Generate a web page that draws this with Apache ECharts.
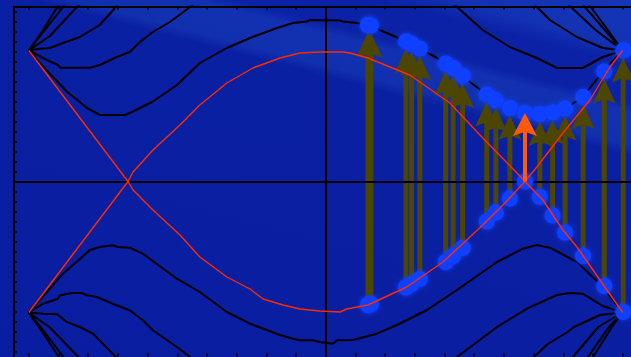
<!DOCTYPE html>
<html>
<head>
<meta charset="utf-8">
<script src="https://cdn.jsdelivr.net/npm/echarts@6/dist/echarts.min.js"></script>
<style>
  html, body { margin: 0; padding: 0; background: #0a1ea2; }
  #chart { width: 631px; height: 357px; }
</style>
</head>
<body>
<div id="chart"></div>
<script>
// Band structure E(k): k in units of the top-axis tick spacing, E in units of the left-axis tick spacing.
const kTicks = [-10, -9, -8, -7, -6, -5, -4, -3, -2, -1, 0, 1, 2, 3, 4, 5, 6, 7, 8, 9, 10];
const eTicks = [-17, -16, -15, -14, -13, -12, -11, -10, -9, -8, -7, -6, -5, -4, -3, -2, -1, 0,
                1, 2, 3, 4, 5, 6, 7, 8, 9, 10, 11, 12, 13, 14, 15, 16, 17];

// Edge-state bands (red), crossing at E = 0
const redBandA = [[-10,-13.1],[-6.66,0],[-6.49,0.95],[-5.82,3.15],[-4.91,5.65],[-4.24,7.65],[-3.33,9.85],
  [-2.45,11.35],[-1.54,12.35],[-0.87,12.85],[-0.2,12.95],[0.58,12.95],[0.82,12.85],[1.42,12.35],[2.83,10.65],
  [4.18,7.85],[5.29,4.35],[6.44,0.85],[6.71,0],[7.31,-1.85],[7.99,-4.85],[8.46,-6.55],[9.33,-10.25],[10,-13.1]];
const redBandB = [[-10,13.1],[-6.66,0],[-6.49,-0.85],[-5.82,-2.85],[-4.91,-5.35],[-4.24,-7.55],[-3.33,-9.55],
  [-2.55,-10.75],[-2.11,-11.75],[-1.44,-12.35],[-0.87,-12.75],[-0.2,-12.95],[0.48,-13.05],[0.71,-12.75],
  [1.42,-12.35],[2.73,-10.55],[3.95,-8.05],[5.29,-4.35],[5.97,-2.35],[6.71,0],[7.11,1.45],[7.99,4.85],
  [8.9,8.15],[9.57,11.45],[10,13.1]];

// Bulk bands above the gap (black)
const upperBand1 = [[-10,13.1],[-9.52,11.5],[-8.72,9.0],[-8.04,7.35],[-7.61,6.65],[-6.76,6.65],[-6.49,7.0],
  [-5.82,8.0],[-5.01,9.65],[-4.24,11.85],[-3.33,13.35],[-2.55,14.35],[-1.64,15.35],[-1.1,15.85],[-0.63,16.0],
  [-0.53,16.15],[0.48,16.1],[0.58,16.0],[1.05,15.85],[1.42,15.65],[2.06,14.85],[2.83,13.85],[3.75,12.35],
  [4.29,11.35],[4.86,9.95],[5.53,8.45],[6.2,7.35],[6.88,6.65],[7.55,6.85],[7.99,7.15],[8.66,8.45],[9.24,10.65],[10,13.1]];
const upperBand2Left = [[-10,13.1],[-9.39,12.15],[-9.02,11.65],[-8.95,11.38],[-7.94,11.38],[-7.61,11.65],
  [-7.04,12.45],[-6.6,12.95],[-6.26,13.95],[-5.82,14.95],[-5.25,15.95],[-4.57,17.45],[-4.41,17.85]];
const upperBand2Right = [[4.29,17.85],[4.42,17.45],[5.29,15.15],[6.2,13.45],[7.11,12.35],[7.79,11.35],
  [8.66,11.35],[9.33,12.45],[10,13.1]];
const upperBand3Left = [[-10,13.1],[-9.7,13.25],[-9.29,13.35],[-8.85,13.85],[-8.28,14.45],[-7.61,15.65],
  [-7.1,17.35],[-7.0,17.85]];
const upperBand3Right = [[7.01,17.85],[7.11,17.45],[7.55,16.15],[8.46,14.45],[9.33,13.35],[10,13.1]];
const upperSteepLeft1 = [[-10,13.1],[-9.56,14.95],[-9.02,17.55],[-8.95,17.85]];
const upperSteepLeft2 = [[-10,13.1],[-9.46,15.15],[-8.82,17.55],[-8.75,17.85]];
const upperSteepLeft3 = [[-10,13.1],[-9.29,14.55],[-8.35,17.55],[-8.24,17.85]];
const upperSteepRight1 = [[10,13.1],[9.09,15.15],[8.22,17.55],[8.15,17.85]];
const upperSteepRight2 = [[10,13.1],[9.4,15.15],[8.7,17.55],[8.63,17.85]];
const upperSteepRight3 = [[10,13.1],[9.5,15.15],[8.9,17.55],[8.83,17.85]];

// Bulk bands below the gap (black)
const lowerBand1 = [[-10,-13.1],[-8.85,-9.22],[-7.94,-6.85],[-7.61,-6.55],[-7.17,-6.38],[-7.0,-6.55],
  [-6.6,-6.62],[-6.16,-7.22],[-5.01,-9.72],[-4.24,-11.05],[-3.33,-13.05],[-2.55,-14.22],[-1.54,-15.35],
  [-1.1,-15.72],[-0.87,-15.88],[-0.43,-15.88],[-0.2,-16.05],[0.24,-16.22],[0.38,-15.88],[0.92,-15.85],
  [1.72,-15.22],[2.4,-14.35],[3.41,-12.85],[4.42,-10.85],[5.77,-8.05],[6.64,-6.72],[7.11,-6.35],
  [7.55,-6.62],[8.46,-8.05],[9.24,-10.25],[10,-13.1]];
const lowerBand2Left = [[-10,-13.1],[-9.52,-12.22],[-9.02,-11.72],[-8.95,-11.38],[-8.55,-11.15],[-8.21,-11.15],
  [-8.04,-11.38],[-7.71,-11.55],[-7.04,-12.38],[-6.6,-12.88],[-6.16,-13.88],[-5.82,-14.88],[-5.01,-16.55],
  [-4.57,-17.55],[-4.41,-17.95]];
const lowerBand2Right = [[4.29,-17.95],[4.42,-17.55],[5.77,-14.55],[6.78,-12.72],[7.79,-11.35],[8.22,-11.15],
  [8.66,-11.22],[9.33,-12.45],[10,-13.1]];
const lowerBand3Left = [[-10,-13.1],[-9.52,-13.22],[-9.05,-13.28],[-8.72,-14.05],[-8.28,-14.55],[-7.84,-15.22],
  [-7.17,-17.22],[-7.04,-17.65],[-6.98,-17.9]];
const lowerBand3Right = [[6.91,-17.85],[7.01,-17.55],[7.48,-16.25],[8.15,-15.05],[8.36,-14.55],[9.24,-13.35],[10,-13.1]];
const lowerSteepLeft1 = [[-10,-13.1],[-9.56,-15.0],[-9.0,-17.5],[-8.93,-17.85]];
const lowerSteepLeft2 = [[-10,-13.1],[-9.46,-15.1],[-8.85,-17.5],[-8.78,-17.85]];
const lowerSteepLeft3 = [[-10,-13.1],[-9.29,-14.6],[-8.35,-17.5],[-8.24,-17.85]];
const lowerSteepRight1 = [[10,-13.1],[9.18,-14.55],[8.33,-17.55],[8.26,-17.85]];
const lowerSteepRight2 = [[10,-13.1],[9.54,-14.55],[8.83,-17.55],[8.76,-17.85]];
const lowerSteepRight3 = [[10,-13.1],[9.64,-14.55],[9.0,-17.55],[8.93,-17.85]];

// Optical transitions: momentum, initial (edge band) energy, final (bulk band) energy
const transitionK    = [1.42, 1.52, 2.70, 2.89, 3.17, 4.04, 4.29, 4.61, 5.42, 5.73, 6.20, 7.21, 7.64, 8.06, 8.67, 9.38, 10.02];
const transitionFrom = [-12.35, -12.25, -10.6, -10.25, -9.75, -8.05, -7.45, -6.65, -4.0, -3.1, -1.7, -1.55, -3.4, -5.1, -7.45, -10.45, -13.05];
const transitionTo   = [15.65, 15.6, 14.02, 13.75, 13.3, 11.8, 11.35, 10.56, 8.7, 8.12, 7.35, 6.75, 6.9, 7.29, 8.45, 11.0, 13.1];

// The transition starting at the band crossing
const crossingK = [6.71];
const crossingFrom = [0];
const crossingTo = [6.85];

const BLACK = '#000000';
const RED = '#ff2a00';
const OLIVE = '#4c4600';
const ORANGE = '#ff5a0a';
const DOT = '#1040ff';

const blackBands = [
  upperBand1, upperBand2Left, upperBand2Right, upperBand3Left, upperBand3Right,
  upperSteepLeft1, upperSteepLeft2, upperSteepLeft3, upperSteepRight1, upperSteepRight2, upperSteepRight3,
  lowerBand1, lowerBand2Left, lowerBand2Right, lowerBand3Left, lowerBand3Right,
  lowerSteepLeft1, lowerSteepLeft2, lowerSteepLeft3, lowerSteepRight1, lowerSteepRight2, lowerSteepRight3
];

function bandSeries(data, color, width, z) {
  return {
    type: 'line', data: data, xAxisIndex: 0, yAxisIndex: 0,
    showSymbol: false, symbol: 'none', silent: true, animation: false,
    clip: true, z: z,
    lineStyle: { color: color, width: width }
  };
}

function arrowRenderer(look) {
  return function (params, api) {
    const k = api.value(0);
    const base = api.coord([k, api.value(1)]);
    const tip = api.coord([k, api.value(2)]);
    const x = base[0];
    const yTip = tip[1] + look.tipGap;
    const yBase = base[1] - look.baseGap;
    const hw = look.headWidth / 2;
    const hh = look.headHeight;
    const notch = hh * 0.82;
    return {
      type: 'group',
      children: [
        {
          type: 'rect',
          shape: { x: x - look.shaft / 2, y: yTip + notch - 1, width: look.shaft, height: Math.max(0, yBase - yTip - notch + 1) },
          style: { fill: look.color }
        },
        {
          type: 'polygon',
          shape: { points: [[x, yTip], [x + hw, yTip + hh], [x, yTip + notch], [x - hw, yTip + hh]] },
          style: { fill: look.color }
        }
      ]
    };
  };
}

const transitions = transitionK.map((k, i) => [k, transitionFrom[i], transitionTo[i]]);
const crossingTransitions = crossingK.map((k, i) => [k, crossingFrom[i], crossingTo[i]]);

const dotPoints = [];
transitions.concat(crossingTransitions).forEach(t => {
  dotPoints.push([t[0], t[1]]);
  dotPoints.push([t[0], t[2]]);
});

const series = [];
blackBands.forEach(b => series.push(bandSeries(b, BLACK, 2, 3)));

// k = 0 and E = 0 reference lines
series[0].markLine = {
  silent: true, symbol: 'none', animation: false,
  label: { show: false },
  lineStyle: { color: BLACK, width: 2, type: 'solid' },
  data: [{ xAxis: 0 }, { yAxis: 0 }]
};

series.push({
  type: 'custom', data: transitions, silent: true, animation: false, z: 4,
  encode: { x: 0, y: [1, 2] },
  renderItem: arrowRenderer({ color: OLIVE, shaft: 5, headWidth: 23, headHeight: 25, tipGap: 7, baseGap: 7 })
});

series.push({
  type: 'scatter', data: dotPoints, symbol: 'circle', symbolSize: 16,
  silent: true, animation: false, z: 5,
  itemStyle: { color: DOT, opacity: 1, shadowBlur: 4, shadowColor: DOT }
});

series.push(bandSeries(redBandA, RED, 1.4, 6));
series.push(bandSeries(redBandB, RED, 1.4, 6));

series.push({
  type: 'custom', data: crossingTransitions, silent: true, animation: false, z: 7,
  encode: { x: 0, y: [1, 2] },
  renderItem: arrowRenderer({ color: ORANGE, shaft: 4, headWidth: 24, headHeight: 23, tipGap: 0, baseGap: 0 })
});

const tickStyle = { color: BLACK, width: 1.5 };

const chart = echarts.init(document.getElementById('chart'), null, { renderer: 'canvas', width: 631, height: 357 });
chart.setOption({
  animation: false,
  backgroundColor: '#0a1ea2',
  graphic: {
    elements: [{
      type: 'rect', z: -100, silent: true,
      shape: { x: 0, y: 0, width: 631, height: 357 },
      style: {
        fill: new echarts.graphic.LinearGradient(600, -14, 471, 482, [
          { offset: 0.0, color: '#1535b8' },
          { offset: 0.10, color: '#1332b3' },
          { offset: 0.135, color: '#0b22a6' },
          { offset: 0.205, color: '#0b22a6' },
          { offset: 0.225, color: '#1231b2' },
          { offset: 0.285, color: '#1130ae' },
          { offset: 0.305, color: '#0a20a3' },
          { offset: 1.0, color: '#091da0' }
        ], true)
      }
    }]
  },
  grid: { left: 14, top: 6.5, width: 623.5, height: 350, containLabel: false, outerBoundsMode: 'none' },
  xAxis: [{
    type: 'value', min: -10.5, max: 10.5, position: 'top',
    axisLine: { show: true, onZero: false, lineStyle: { color: BLACK, width: 2 } },
    axisTick: { show: true, inside: true, length: 3, customValues: kTicks, lineStyle: tickStyle },
    axisLabel: { show: false }, splitLine: { show: false }
  }, {
    type: 'value', min: -10.5, max: 10.5, position: 'bottom',
    axisLine: { show: false, onZero: false },
    axisTick: { show: true, inside: true, length: 3, customValues: kTicks, lineStyle: tickStyle },
    axisLabel: { show: false }, splitLine: { show: false }
  }],
  yAxis: [{
    type: 'value', min: -17.5, max: 17.5, position: 'left',
    axisLine: { show: true, onZero: false, lineStyle: { color: BLACK, width: 2 } },
    axisTick: { show: true, inside: true, length: 3, customValues: eTicks, lineStyle: tickStyle },
    axisLabel: { show: false }, splitLine: { show: false }
  }],
  series: series
});
</script>
</body>
</html>
